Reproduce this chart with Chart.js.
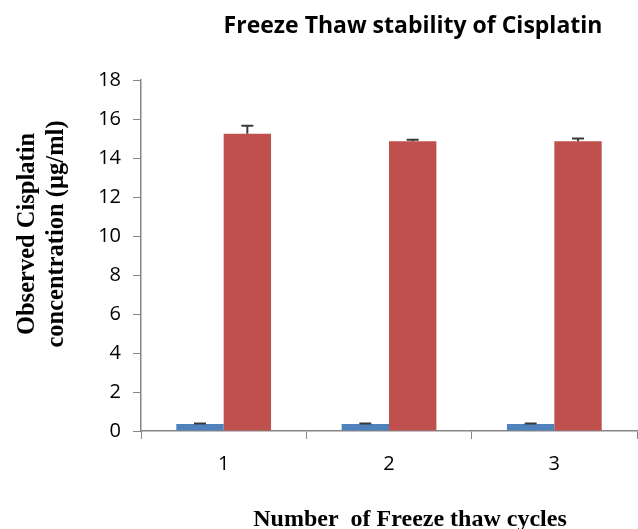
<!DOCTYPE html>
<html>
<head>
<meta charset="utf-8">
<script src="https://cdn.jsdelivr.net/npm/chart.js@4.4.0/dist/chart.umd.min.js"></script>
<style>
html,body{margin:0;padding:0;background:#fff;}
#wrap{width:638px;height:529px;position:relative;}
</style>
</head>
<body>
<div id="wrap"><canvas id="c" width="638" height="529"></canvas></div>
<script>
const categories = ["1", "2", "3"];
const seriesBlue = [0.36, 0.36, 0.36];
const seriesBlueErr = [0.03, 0.03, 0.03];
const seriesRed = [15.25, 14.86, 14.86];
const seriesRedErr = [0.41, 0.07, 0.14];
const yTicks = [0, 2, 4, 6, 8, 10, 12, 14, 16, 18];
const chartTitle = "Freeze Thaw stability of Cisplatin";
const yTitle = ["Observed Cisplatin", "concentration (\u00b5g/ml)"];
const xTitle = "Number  of Freeze thaw cycles";

const errorBars = {
  id: 'errorBars',
  afterDatasetsDraw(chart) {
    const ctx = chart.ctx;
    const ys = chart.scales.y;
    const errs = [seriesBlueErr, seriesRedErr];
    ctx.save();
    ctx.strokeStyle = '#3a3a3a';
    ctx.lineWidth = 2;
    chart.data.datasets.forEach((ds, di) => {
      const meta = chart.getDatasetMeta(di);
      meta.data.forEach((bar, i) => {
        const v = ds.data[i];
        const e = errs[di][i];
        const x = bar.x;
        const yTop = ys.getPixelForValue(v + e);
        const yVal = ys.getPixelForValue(v);
        ctx.beginPath();
        ctx.moveTo(x, yVal);
        ctx.lineTo(x, yTop);
        ctx.moveTo(x - 6, yTop);
        ctx.lineTo(x + 6, yTop);
        ctx.stroke();
      });
    });
    ctx.restore();
  }
};

const texts = {
  id: 'texts',
  afterDraw(chart) {
    const ctx = chart.ctx;
    ctx.save();
    ctx.fillStyle = '#000';
    ctx.textAlign = 'center';
    ctx.textBaseline = 'alphabetic';
    ctx.font = 'bold 23px "Open Sans", sans-serif';
    ctx.fillText(chartTitle, 413, 33);
    ctx.font = 'bold 24px "Liberation Serif", serif';
    ctx.fillText(xTitle, 410, 526);
    ctx.font = 'bold 24.5px "Liberation Serif", serif';
    ctx.translate(0, 234);
    ctx.rotate(-Math.PI / 2);
    ctx.fillText(yTitle[0], 0, 34);
    ctx.fillText(yTitle[1], 0, 63);
    ctx.restore();
  }
};

new Chart(document.getElementById('c'), {
  type: 'bar',
  data: {
    labels: categories,
    datasets: [
      { label: 'Series1', data: seriesBlue, backgroundColor: '#4F81BD', borderWidth: 0,
        categoryPercentage: 0.573, barPercentage: 1.0 },
      { label: 'Series2', data: seriesRed, backgroundColor: '#C0504D', borderWidth: 0,
        categoryPercentage: 0.573, barPercentage: 1.0 }
    ]
  },
  options: {
    responsive: false,
    animation: false,
    devicePixelRatio: 1,
    layout: { padding: { top: 80, right: 1, left: 0, bottom: 0 } },
    plugins: { legend: { display: false }, title: { display: false }, tooltip: { enabled: false } },
    scales: {
      x: {
        grid: { offset: true, drawOnChartArea: false, tickLength: 8, color: '#868686', lineWidth: 1 },
        border: { display: true, color: '#868686', width: 1.5 },
        ticks: { color: '#000', font: { family: 'Open Sans', size: 20 }, padding: 13 },
        afterFit(s) { s.height = 98; }
      },
      y: {
        min: 0, max: 18,
        afterBuildTicks(s) { s.ticks = yTicks.map(v => ({ value: v })); },
        grid: { drawOnChartArea: false, tickLength: 8, color: '#868686', lineWidth: 1 },
        border: { display: true, color: '#868686', width: 1.5 },
        ticks: { color: '#000', font: { family: 'Open Sans', size: 20 }, padding: 12 },
        afterFit(s) { s.width = 141; }
      }
    }
  },
  plugins: [errorBars, texts]
});
</script>
</body>
</html>
